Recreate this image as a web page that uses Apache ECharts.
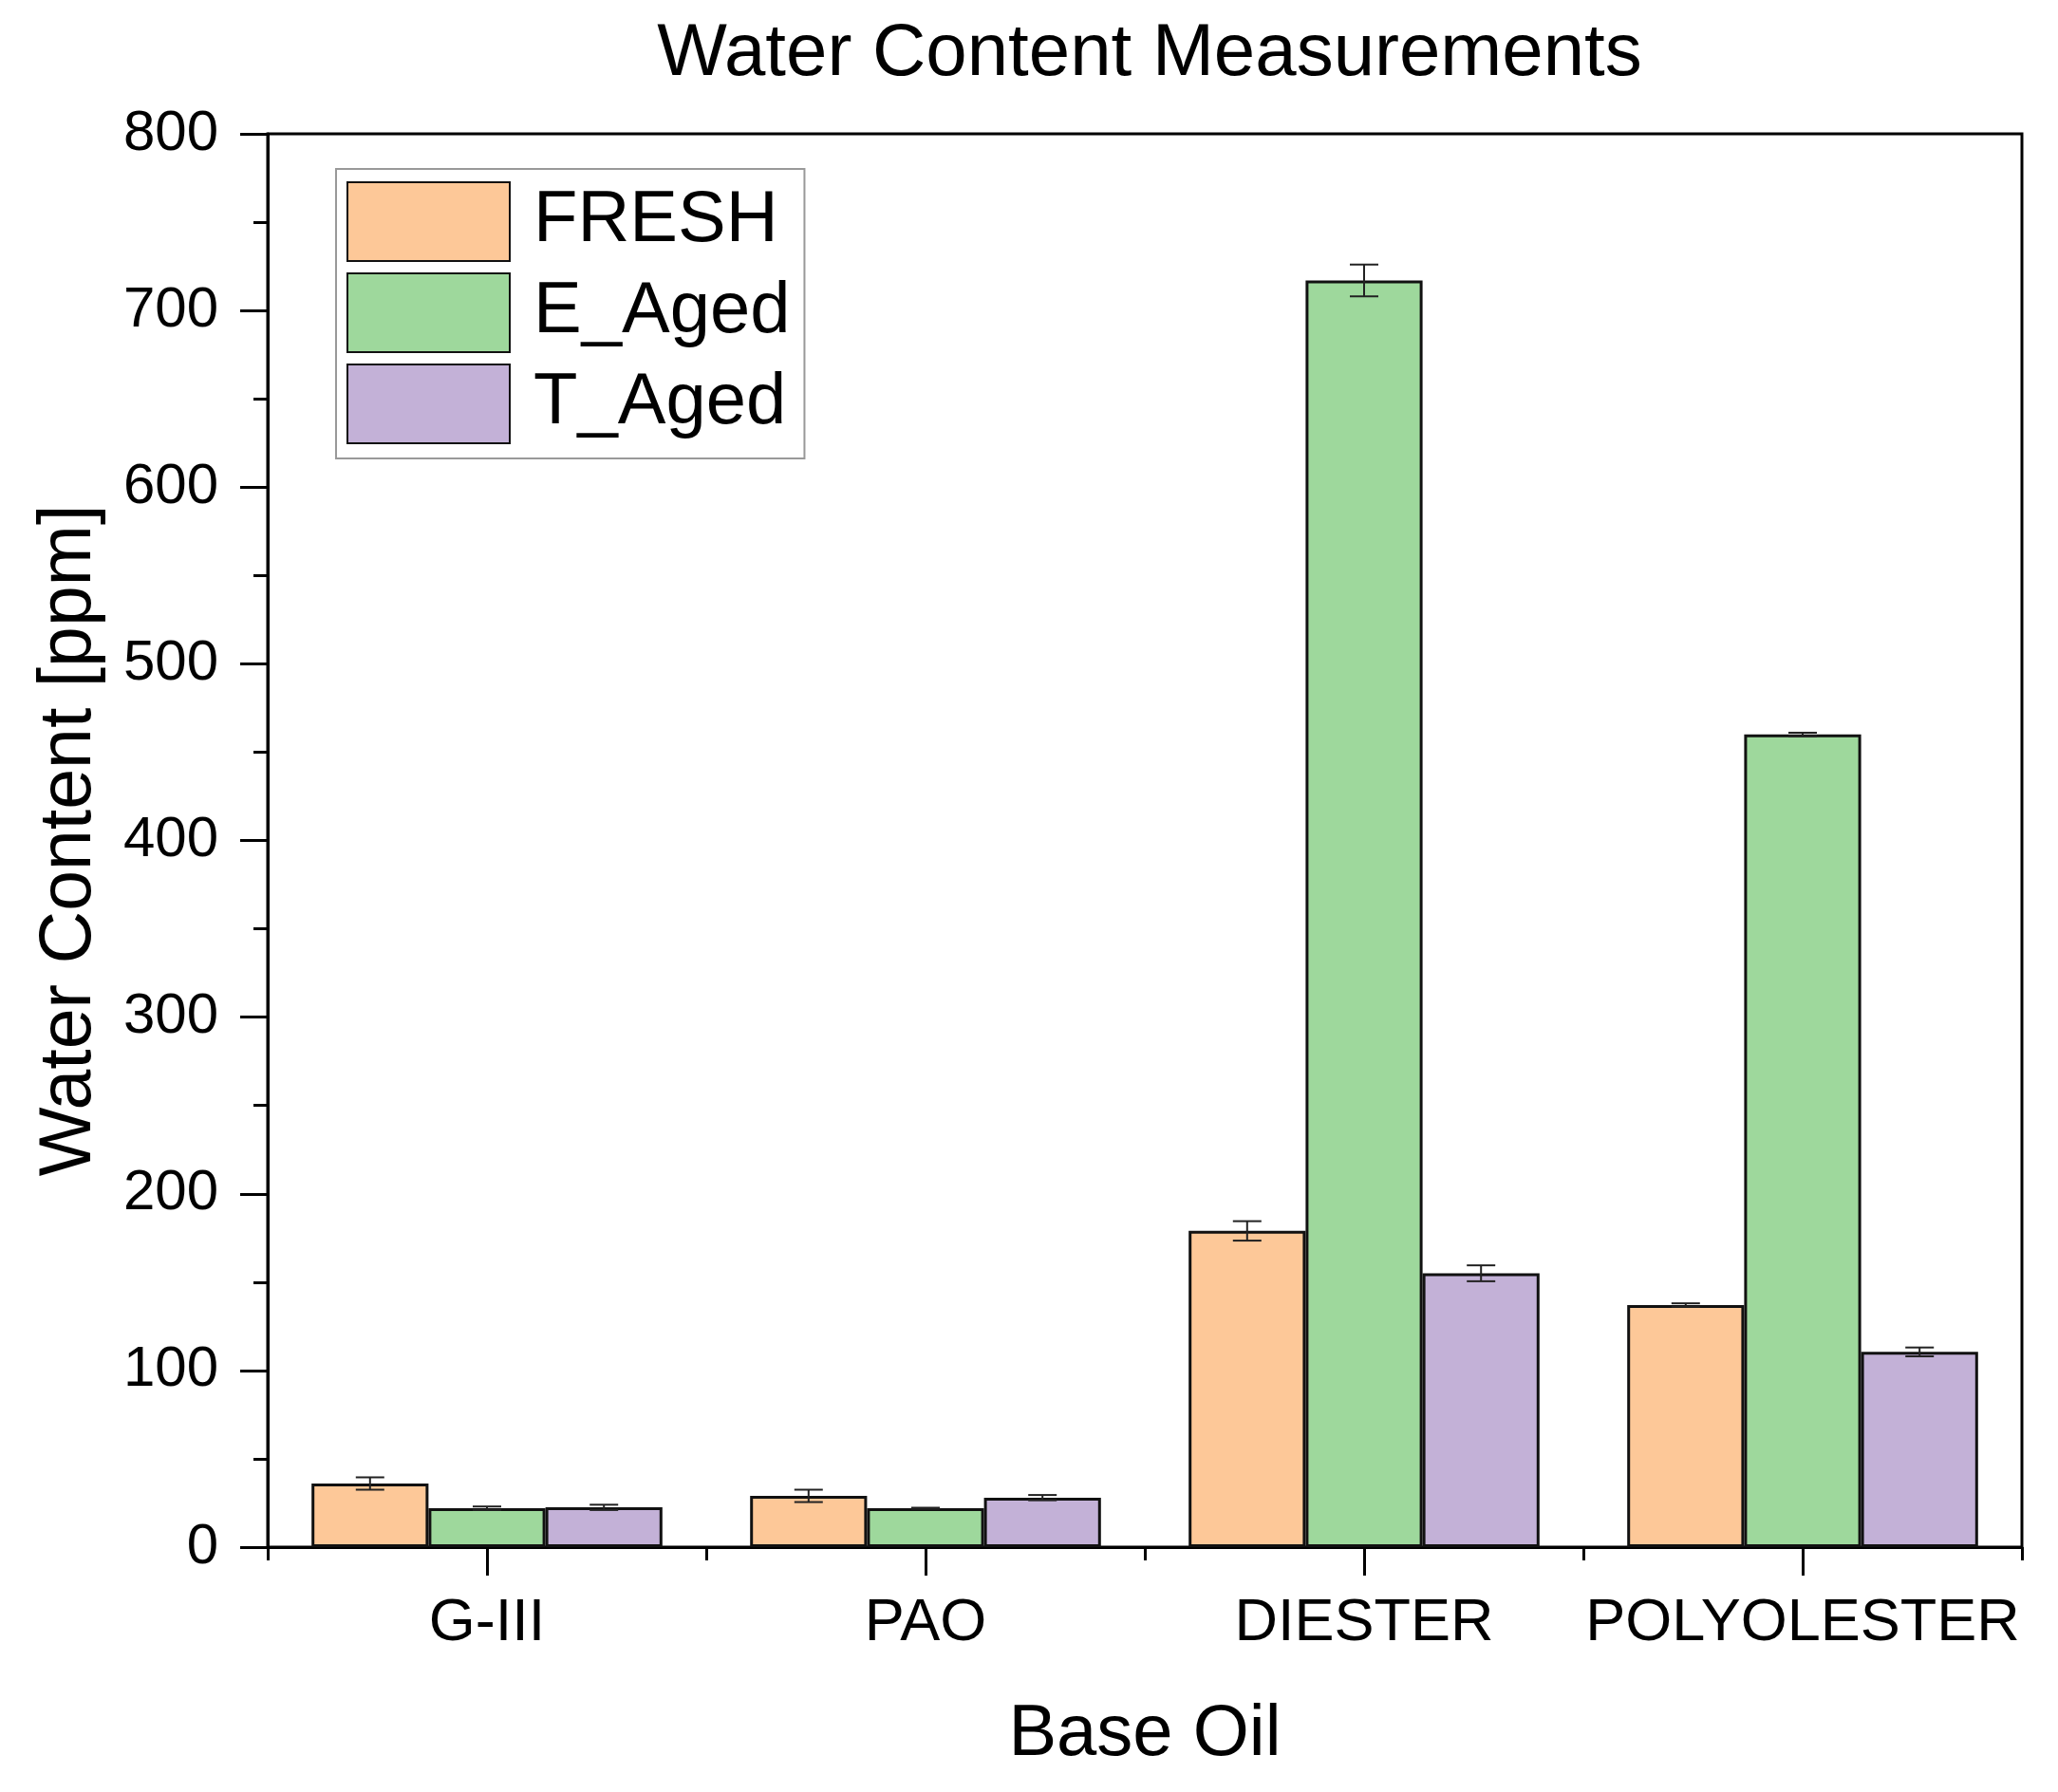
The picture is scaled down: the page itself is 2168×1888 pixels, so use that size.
<!DOCTYPE html>
<html>
<head>
<meta charset="utf-8">
<script src="https://cdn.jsdelivr.net/npm/echarts@6/dist/echarts.min.js"></script>
<style>
  html, body { margin: 0; padding: 0; background: #fff; }
  #chart { width: 2168px; height: 1888px; }
</style>
</head>
<body>
<div id="chart"></div>
<script>
// ---- data ----
const categories = ['G-III', 'PAO', 'DIESTER', 'POLYOLESTER'];
const seriesNames = ['FRESH', 'E_Aged', 'T_Aged'];
const freshValues = [36, 29, 179, 137];
const freshErrors = [3.5, 3.5, 5.5, 1];
const eAgedValues = [22, 22, 717, 460];
const eAgedErrors = [1, 0.3, 9, 1];
const tAgedValues = [22.5, 28, 155, 110.5];
const tAgedErrors = [1.5, 1.5, 4.5, 2.5];
const yTicks = [0, 100, 200, 300, 400, 500, 600, 700, 800];

const colors = ['#FDC898', '#9ED89C', '#C3B1D7'];
const valueSets = [freshValues, eAgedValues, tAgedValues];
const errorSets = [freshErrors, eAgedErrors, tAgedErrors];

const FONT = 'Liberation Sans, Arial, sans-serif';
const CAT_GAP = 0.2;

const chart = echarts.init(document.getElementById('chart'), null, { renderer: 'canvas' });

function errorRenderer(offsetIndex) {
  return function (params, api) {
    const idx = api.value(0);
    const v = api.value(1);
    const e = api.value(2);
    const center = api.coord([idx, v]);
    const band = api.size([1, 0])[0];
    const bw = band * (1 - CAT_GAP) / 3;
    const x = center[0] + (offsetIndex - 1) * bw;
    const yTop = api.coord([idx, v + e])[1];
    const yBot = api.coord([idx, v - e])[1];
    const cap = 15;
    const style = { stroke: '#222', lineWidth: 2 };
    return {
      type: 'group',
      children: [
        { type: 'line', shape: { x1: x, y1: yTop, x2: x, y2: yBot }, style: style },
        { type: 'line', shape: { x1: x - cap, y1: yTop, x2: x + cap, y2: yTop }, style: style },
        { type: 'line', shape: { x1: x - cap, y1: yBot, x2: x + cap, y2: yBot }, style: style }
      ]
    };
  };
}

const barSeries = seriesNames.map((name, i) => ({
  name: name,
  type: 'bar',
  xAxisIndex: 0,
  yAxisIndex: 0,
  data: valueSets[i],
  barGap: '0%',
  barCategoryGap: (CAT_GAP * 100) + '%',
  itemStyle: { color: colors[i], borderColor: '#111', borderWidth: 3 },
  emphasis: { disabled: true },
  z: 2
}));

const errSeries = seriesNames.map((name, i) => ({
  name: name + '_err',
  type: 'custom',
  xAxisIndex: 0,
  yAxisIndex: 0,
  renderItem: errorRenderer(i),
  encode: { x: 0, y: 1 },
  data: valueSets[i].map((v, k) => [k, v, errorSets[i][k]]),
  z: 5,
  silent: true
}));

const option = {
  animation: false,
  backgroundColor: '#fff',
  textStyle: { fontFamily: FONT, color: '#000' },
  title: {
    text: 'Water Content Measurements',
    left: 1206,
    textAlign: 'center',
    top: 13,
    textStyle: { fontFamily: FONT, fontSize: 78, fontWeight: 'normal', color: '#000' }
  },
  legend: {
    data: seriesNames,
    orient: 'vertical',
    left: 354,
    top: 178,
    padding: [13, 15, 15, 11],
    itemWidth: 171,
    itemHeight: 83,
    itemGap: 11,
    icon: 'rect',
    borderColor: '#999',
    borderWidth: 2,
    backgroundColor: '#fff',
    textStyle: { fontFamily: FONT, fontSize: 76, color: '#000', padding: [0, 0, 0, 20] }
  },
  grid: {
    left: 282,
    right: 38,
    top: 141,
    bottom: 258,
    show: true,
    borderColor: '#000',
    borderWidth: 3,
    backgroundColor: 'transparent',
    containLabel: false
  },
  xAxis: [
    {
      type: 'category',
      data: categories,
      position: 'bottom',
      name: 'Base Oil',
      nameLocation: 'middle',
      nameGap: 160,
      nameTextStyle: { fontFamily: FONT, fontSize: 76, color: '#000' },
      axisLine: { show: true, lineStyle: { color: '#000', width: 3 } },
      axisTick: { show: true, interval: 0, inside: false, length: 14, lineStyle: { color: '#000', width: 3 } },
      axisLabel: { show: true, interval: 0, margin: 49, fontFamily: FONT, fontSize: 63, color: '#000' },
      splitLine: { show: false }
    },
    {
      type: 'category',
      data: categories,
      position: 'bottom',
      axisLine: { show: false },
      axisTick: { show: true, interval: 0, alignWithLabel: true, inside: false, length: 30, lineStyle: { color: '#000', width: 3 } },
      axisLabel: { show: false, interval: 0 },
      splitLine: { show: false }
    }
  ],
  yAxis: {
    type: 'value',
    min: yTicks[0],
    max: yTicks[yTicks.length - 1],
    interval: 100,
    name: 'Water Content [ppm]',
    nameLocation: 'middle',
    nameGap: 170,
    nameTextStyle: { fontFamily: FONT, fontSize: 77, color: '#000' },
    axisLine: { show: true, lineStyle: { color: '#000', width: 3 } },
    axisTick: { show: true, inside: false, length: 29, lineStyle: { color: '#000', width: 3 } },
    minorTick: { show: true, splitNumber: 2, length: 15, lineStyle: { color: '#000', width: 3 } },
    axisLabel: { show: true, margin: 52, fontFamily: FONT, fontSize: 60, color: '#000' },
    splitLine: { show: false }
  },
  series: barSeries.concat(errSeries)
};

chart.setOption(option);
</script>
</body>
</html>
